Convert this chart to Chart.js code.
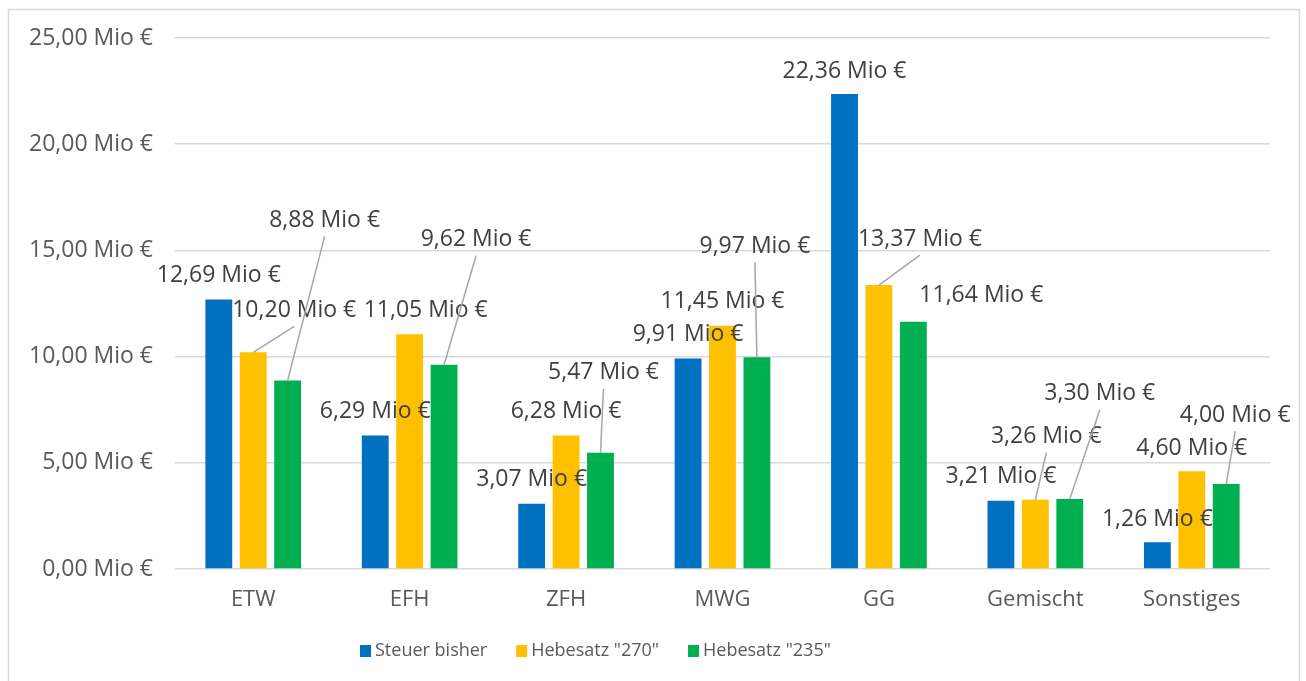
<!DOCTYPE html>
<html>
<head>
<meta charset="utf-8">
<script src="https://cdn.jsdelivr.net/npm/chart.js@4/dist/chart.umd.min.js"></script>
<style>
  html, body { margin: 0; padding: 0; background: #ffffff; }
  #wrap { width: 1306px; height: 681px; position: relative; }
</style>
</head>
<body>
<div id="wrap"><canvas id="c" width="1306" height="681"></canvas></div>
<script>
const categories = ["ETW", "EFH", "ZFH", "MWG", "GG", "Gemischt", "Sonstiges"];
const seriesNames = ["Steuer bisher", "Hebesatz \"270\"", "Hebesatz \"235\""];
const steuerBisher = [12.69, 6.29, 3.07, 9.91, 22.36, 3.21, 1.26];
const hebesatz270 = [10.20, 11.05, 6.28, 11.45, 13.37, 3.26, 4.60];
const hebesatz235 = [8.88, 9.62, 5.47, 9.97, 11.64, 3.30, 4.00];
const yTicks = [0, 5, 10, 15, 20, 25];

const colors = ["#0070C0", "#FFC000", "#00B050"];
const FONT = "'Open Sans', 'Noto Sans', sans-serif";

function fmt(v) { return v.toFixed(2).replace('.', ',') + ' Mio €'; }

// label nudges (pixels relative to bar top centre) and whether a leader line is drawn
const labelNudge = [
  [[0,-24,0],[0,-24,0],[0,-24,0],[0,-24,0],[0,-23,0],[0,-24,0],[0,-23,0]],
  [[41,-42,1],[16,-24,0],[0,-24,0],[0,-24,0],[41,-46,1],[11,-63,1],[0,-23,0]],
  [[37,-160,1],[32,-125,1],[3,-80,1],[-2,-111,1],[68,-26,0],[30,-105,1],[9,-69,1]]
];

const bgBorder = {
  id: 'bgBorder',
  beforeDraw(chart) {
    const ctx = chart.ctx;
    ctx.save();
    ctx.strokeStyle = '#d9d9d9';
    ctx.lineWidth = 1.5;
    ctx.strokeRect(8.5, 9.5, 1291, 700);
    ctx.restore();
  }
};

const dataLabels = {
  id: 'dataLabels',
  afterDatasetsDraw(chart) {
    const ctx = chart.ctx;
    ctx.save();
    ctx.font = "23px " + FONT;
    ctx.textAlign = 'center';
    ctx.textBaseline = 'middle';
    chart.data.datasets.forEach((ds, di) => {
      const meta = chart.getDatasetMeta(di);
      meta.data.forEach((bar, i) => {
        const n = labelNudge[di][i];
        const cx = bar.x + n[0], cy = bar.y + n[1];
        if (n[2]) {
          ctx.strokeStyle = '#a6a6a6';
          ctx.lineWidth = 1.5;
          ctx.beginPath();
          ctx.moveTo(cx, cy + 16);
          ctx.lineTo(bar.x, bar.y);
          ctx.stroke();
        }
        ctx.fillStyle = '#404040';
        ctx.fillText(fmt(ds.data[i]), cx, cy);
      });
    });
    ctx.restore();
  }
};

const customLegend = {
  id: 'customLegend',
  afterDraw(chart) {
    const ctx = chart.ctx;
    ctx.save();
    ctx.font = "18px " + FONT;
    ctx.textBaseline = 'middle';
    ctx.textAlign = 'left';
    const box = 11, gapBoxText = 4, gapItems = 29;
    let x = 360;
    const y = 651;
    chart.data.datasets.forEach((ds, di) => {
      ctx.fillStyle = ds.backgroundColor;
      ctx.fillRect(x, y - 6, box, box + 1);
      ctx.fillStyle = '#595959';
      const tx = x + box + gapBoxText;
      ctx.fillText(ds.label, tx, y);
      x = tx + ctx.measureText(ds.label).width + gapItems;
    });
    ctx.restore();
  }
};

new Chart(document.getElementById('c'), {
  type: 'bar',
  data: {
    labels: categories,
    datasets: [
      { label: seriesNames[0], data: steuerBisher, backgroundColor: colors[0] },
      { label: seriesNames[1], data: hebesatz270, backgroundColor: colors[1] },
      { label: seriesNames[2], data: hebesatz235, backgroundColor: colors[2] }
    ]
  },
  options: {
    responsive: false,
    animation: false,
    layout: { padding: { top: 38, right: 36, bottom: 0, left: 0 } },
    datasets: { bar: { categoryPercentage: 0.66, barPercentage: 0.78 } },
    plugins: { legend: { display: false }, tooltip: { enabled: false } },
    scales: {
      x: {
        grid: { display: false, drawTicks: false },
        border: { display: false },
        ticks: { color: '#595959', font: { family: FONT, size: 22 }, padding: 18 },
        afterFit(s) { s.height = 112; }
      },
      y: {
        min: 0, max: 25,
        afterBuildTicks(s) { s.ticks = yTicks.map(v => ({ value: v })); },
        grid: { color: '#d9d9d9', lineWidth: 1.5, drawTicks: false },
        border: { display: false },
        ticks: { color: '#595959', font: { family: FONT, size: 23 }, padding: 22,
          callback: v => fmt(v) },
        afterFit(s) { s.width = 175; }
      }
    }
  },
  plugins: [bgBorder, dataLabels, customLegend]
});
</script>
</body>
</html>
